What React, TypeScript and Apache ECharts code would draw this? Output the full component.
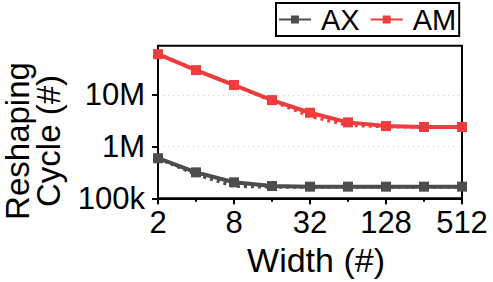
import React, { useEffect, useRef } from "react";
import * as echarts from "echarts";

const widths = [2, 4, 8, 16, 32, 64, 128, 256, 512];
const axValues = [597e3, 318e3, 204e3, 173e3, 168e3, 168e3, 168e3, 168e3, 168e3];
const amValues = [61.8e6, 30.3e6, 15.6e6, 7.97e6, 4.53e6, 2.95e6, 2.5e6, 2.4e6, 2.4e6];
const axDotted = [597e3, 290e3, 172e3, 166e3, 166e3, 166e3, 166e3, 166e3, 166e3];
const amDotted = [61.8e6, 30.3e6, 15.6e6, 7.7e6, 3.9e6, 2.6e6, 2.45e6, 2.4e6, 2.4e6];
const xLabelTicks = [2, 8, 32, 128, 512];
const xMinorTicks = [4, 16, 64, 256];
const yTicks = [1e5, 1e6, 1e7];

const FONT = "Liberation Sans, Arial, Helvetica, sans-serif";
const RED = "#f03c3c";
const GRAY = "#4d4d4d";

const pairs = (vals: number[]) => widths.map((w, i) => [w, vals[i]]);
const fmtY = (v: number) => (v >= 1e6 ? `${Math.round(v / 1e6)}M` : `${Math.round(v / 1e3)}k`);

export default function App() {
  const ref = useRef<HTMLDivElement>(null);
  useEffect(() => {
    if (!ref.current) return;
    const chart = echarts.init(ref.current, null, { renderer: "svg" });
    chart.setOption({
      animation: false,
      backgroundColor: "#fff",
      grid: {
        left: 158,
        right: 31,
        top: 45.7,
        bottom: 83.7,
        show: true,
        borderColor: "#000",
        borderWidth: 2,
        backgroundColor: "transparent",
      },
      legend: {
        data: ["AX", "AM"],
        left: 276,
        top: 3,
        itemWidth: 32,
        itemHeight: 10,
        itemGap: 10,
        padding: [2, 3, 2, 2],
        borderColor: "#000",
        borderWidth: 2,
        textStyle: { fontSize: 29, fontFamily: FONT, color: "#000", padding: [0, 0, 0, 5] },
      },
      xAxis: [
        {
          type: "log",
          logBase: 2,
          min: 2,
          max: 512,
          axisLine: { show: true, lineStyle: { color: "#000", width: 2 } },
          axisTick: { show: true, customValues: xLabelTicks, length: 6, lineStyle: { color: "#000", width: 2 } },
          axisLabel: {
            customValues: xLabelTicks,
            fontSize: 31,
            fontFamily: FONT,
            color: "#000",
            margin: 9,
            formatter: (v: number) => `${Math.round(v)}`,
          },
          splitLine: { show: false },
        },
        {
          type: "log",
          logBase: 2,
          min: 2,
          max: 512,
          position: "bottom",
          axisLine: { show: false },
          axisTick: { show: true, customValues: xMinorTicks, length: 3.5, lineStyle: { color: "#000", width: 2 } },
          axisLabel: { show: false },
          splitLine: { show: false },
        },
      ],
      yAxis: {
        type: "log",
        logBase: 10,
        min: 1e5,
        max: 9e7,
        axisLine: { show: true, lineStyle: { color: "#000", width: 2 } },
        axisTick: { show: true, customValues: yTicks, length: 6, lineStyle: { color: "#000", width: 2 } },
        axisLabel: {
          customValues: yTicks,
          fontSize: 31,
          fontFamily: FONT,
          color: "#000",
          margin: 13,
          formatter: (v: number) => fmtY(v),
        },
        splitLine: { show: true, lineStyle: { color: "#c8c8c8", width: 1, type: [1, 4] } },
      },
      graphic: [
        {
          type: "text",
          x: 33,
          y: 141,
          rotation: Math.PI / 2,
          style: {
            text: "Reshaping\nCycle (#)",
            fontSize: 33,
            fontFamily: FONT,
            fill: "#000",
            lineHeight: 31,
            align: "center",
            verticalAlign: "middle",
          },
        },
        {
          type: "text",
          x: 316,
          y: 260,
          style: {
            text: "Width (#)",
            fontSize: 34,
            fontFamily: FONT,
            fill: "#000",
            align: "center",
            verticalAlign: "middle",
          },
        },
      ],
      series: [
        {
          name: "AX fit",
          type: "line",
          data: pairs(axDotted),
          symbol: "none",
          lineStyle: { color: GRAY, width: 3.5, type: [3, 4] },
          z: 1,
        },
        {
          name: "AM fit",
          type: "line",
          data: pairs(amDotted),
          symbol: "none",
          lineStyle: { color: RED, width: 3.5, type: [3, 4] },
          z: 1,
        },
        {
          name: "AX",
          type: "line",
          data: pairs(axValues),
          symbol: "rect",
          symbolSize: 10,
          itemStyle: { color: GRAY },
          lineStyle: { color: GRAY, width: 4 },
          z: 2,
        },
        {
          name: "AM",
          type: "line",
          data: pairs(amValues),
          symbol: "rect",
          symbolSize: 10,
          itemStyle: { color: RED },
          lineStyle: { color: RED, width: 4 },
          z: 2,
        },
      ],
    });
    return () => chart.dispose();
  }, []);
  return <div ref={ref} style={{ position: "fixed", left: 0, top: 0, width: 493, height: 282 }} />;
}
